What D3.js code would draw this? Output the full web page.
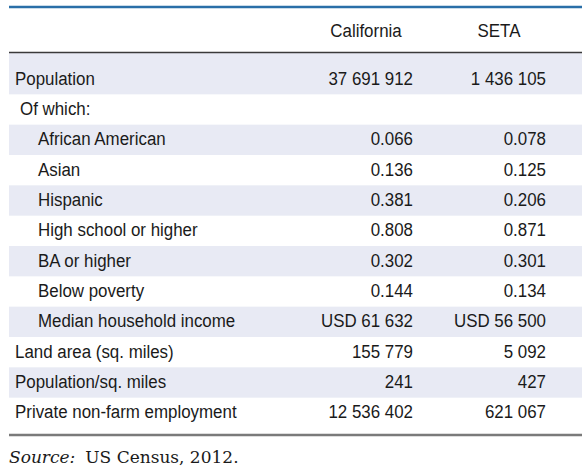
<!DOCTYPE html>
<html>
<head>
<meta charset="utf-8">
<script src="https://cdn.jsdelivr.net/npm/d3@7"></script>
<style>
  html, body { margin: 0; padding: 0; background: #fff; }
  svg { display: block; }
</style>
</head>
<body>
<svg id="chart" width="582" height="471"></svg>
<script>
// ---- data ----
const columns = ["California", "SETA"];
const rowLabels = [
  "Population",
  "Of which:",
  "African American",
  "Asian",
  "Hispanic",
  "High school or higher",
  "BA or higher",
  "Below poverty",
  "Median household income",
  "Land area (sq. miles)",
  "Population/sq. miles",
  "Private non-farm employment"
];
const rowIndent = [0, 1, 2, 2, 2, 2, 2, 2, 2, 0, 0, 0];
const californiaValues = ["37 691 912", "", "0.066", "0.136", "0.381", "0.808", "0.302", "0.144", "USD 61 632", "155 779", "241", "12 536 402"];
const setaValues = ["1 436 105", "", "0.078", "0.125", "0.206", "0.871", "0.301", "0.134", "USD 56 500", "5 092", "427", "621 067"];
const sourceItalic = "Source:";
const sourceText = "US Census, 2012.";

// ---- layout ----
const W = 582, H = 471;
const left = 9, right = W;
const topLineY = 7, headerLineY = 52.5, bottomLineY = 435;
const bodyTop = 64, bodyBottom = 428;
const font = "'Liberation Sans', Arial, sans-serif";
const fontSize = 19;
const sx = 0.89; // horizontal condensing

const svg = d3.select("#chart");

const y = d3.scaleBand()
  .domain(d3.range(rowLabels.length))
  .range([bodyTop, bodyBottom])
  .paddingInner(0).paddingOuter(0);

// right edges of the numeric columns
const xCol = d3.scaleOrdinal().domain(columns).range([413, 546]);
const headerOffset = 47;
const indentX = d3.scaleOrdinal().domain([0, 1, 2]).range([15, 20, 38]);

function condText(sel, xf, yf, anchor) {
  sel.attr("transform", (d, i) => `translate(${xf(d, i)},${yf(d, i)}) scale(${sx},1)`)
    .attr("text-anchor", anchor)
    .attr("font-family", font)
    .attr("font-size", fontSize)
    .attr("fill", "#1a1a1a")
    .text(d => d);
}

// row shading
svg.append("g").selectAll("rect")
  .data(d3.range(rowLabels.length).filter(i => i % 2 === 0))
  .join("rect")
  .attr("x", left)
  .attr("width", right - left)
  .attr("y", i => i === 0 ? headerLineY + 0.5 : y(i))
  .attr("height", i => i === 0 ? y(i) + y.bandwidth() - headerLineY - 0.5 : y.bandwidth())
  .attr("fill", "#e8eaf4");

// rules
svg.append("line").attr("x1", left).attr("x2", right).attr("y1", topLineY).attr("y2", topLineY)
  .attr("stroke", "#2a6fa8").attr("stroke-width", 2.5);
svg.append("line").attr("x1", left).attr("x2", right).attr("y1", headerLineY).attr("y2", headerLineY)
  .attr("stroke", "#3a3a3a").attr("stroke-width", 1.5);
svg.append("line").attr("x1", left).attr("x2", right).attr("y1", bottomLineY).attr("y2", bottomLineY)
  .attr("stroke", "#7a7a7a").attr("stroke-width", 2.5);

// header
svg.append("g").selectAll("text")
  .data(columns)
  .join("text")
  .call(condText, d => xCol(d) - headerOffset, () => 37, "middle");

const baseOff = 20.5;

// row labels
svg.append("g").selectAll("text")
  .data(rowLabels)
  .join("text")
  .call(condText, (d, i) => indentX(rowIndent[i]), (d, i) => y(i) + baseOff, "start");

// values
const valueSets = [californiaValues, setaValues];
columns.forEach((c, ci) => {
  svg.append("g").selectAll("text")
    .data(valueSets[ci])
    .join("text")
    .call(condText, () => xCol(c), (d, i) => y(i) + baseOff, "end");
});

// source
const src = svg.append("text")
  .attr("x", left)
  .attr("y", 463)
  .attr("font-family", "'DejaVu Serif', serif")
  .attr("font-size", 17)
  .attr("fill", "#1a1a1a");
src.append("tspan").attr("font-style", "italic").text(sourceItalic);
src.append("tspan").attr("dx", 10).text(sourceText);
</script>
</body>
</html>
